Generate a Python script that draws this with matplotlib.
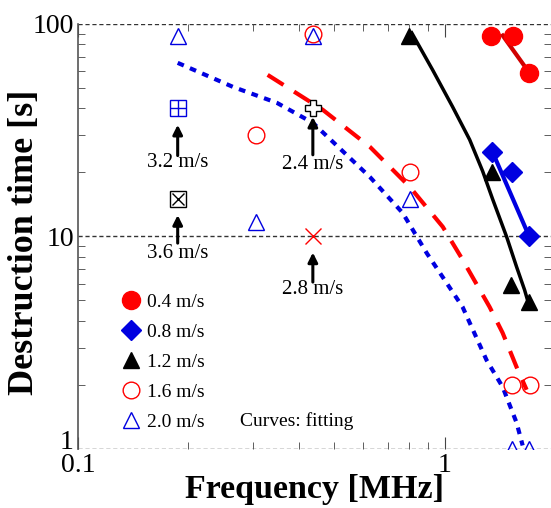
import numpy as np
import matplotlib
matplotlib.use('Agg')
import matplotlib.pyplot as plt
from matplotlib.lines import Line2D
from matplotlib.transforms import ScaledTranslation

plt.rcParams['font.family'] = ['Liberation Serif', 'DejaVu Serif']

# 测点数据 (频率 MHz, 破坏时间 s)
f_04 = [1.34, 1.54, 1.70]
t_04 = [88, 88, 59]
f_08 = [1.35, 1.53, 1.70]
t_08 = [25, 20, 10]
f_12 = [0.80, 1.35, 1.52, 1.70]
t_12 = [88, 20, 5.9, 4.9]
f_16 = [0.305, 0.437, 0.805, 1.53, 1.71]
t_16 = [30, 90, 20, 2.0, 2.0]
f_20 = [0.187, 0.305, 0.437, 0.803, 1.53, 1.70]
t_20 = [88, 11.7, 88, 15, 1.0, 1.0]

# 单点 (3.2, 3.6, 2.4, 2.8 m/s)
f_32, t_32 = 0.187, 40
f_36, t_36 = 0.187, 15
f_24, t_24 = 0.437, 40
f_28, t_28 = 0.437, 10

# 拟合曲线
fit04_f = [1.44, 1.70]
fit04_t = [88, 59]
fit08_f = [1.35, 1.70]
fit08_t = [25, 10]
fit12_f = [0.813, 0.927, 1.051, 1.170, 1.269, 1.351, 1.476, 1.571, 1.652, 1.704]
fit12_t = [90.7, 60.7, 40.7, 28.5, 20.3, 15.0, 9.95, 7.19, 5.60, 4.66]
fit16_f = [0.329, 0.465, 0.625, 0.803, 0.988, 1.112, 1.326, 1.439, 1.571, 1.673]
fit16_t = [57.5, 39.4, 26.4, 17.1, 11.1, 7.92, 4.66, 3.52, 2.43, 1.90]
fit20_f = [0.187, 0.2645, 0.3485, 0.437, 0.625, 0.768, 0.893, 1.119, 1.301, 1.439, 1.571, 1.632]
fit20_t = [65.5, 50.5, 42.5, 34.2, 19.05, 12.9, 8.36, 4.66, 2.62, 1.96, 1.33, 1.04]

legend_labels = ['0.4 m/s', '0.8 m/s', '1.2 m/s', '1.6 m/s', '2.0 m/s']

fig = plt.figure(figsize=(5.51, 5.08), dpi=100)
ax = fig.add_axes([0.1416, 0.116, 0.8584, 0.8372])
ax.set_xscale('log')
ax.set_yscale('log')
ax.set_xlim(0.1, 1.95)
ax.set_ylim(1, 100)

# 拟合曲线
ax.plot(fit04_f, fit04_t, '-', color='#d00000', lw=3, zorder=2)
ax.plot(fit08_f, fit08_t, '-', color='#0000e0', lw=3, zorder=2)
ax.plot(fit12_f, fit12_t, '-', color='k', lw=2.5, zorder=2)
ax.plot(fit16_f, fit16_t, '--', color='#ff0000', lw=3, dashes=(4.5, 3), zorder=2)
ax.plot(fit20_f, fit20_t, '--', color='#0000e0', lw=3, dashes=(1.6, 1.6), zorder=2)

# 测点
ax.plot(f_04, t_04, 'o', color='#ff0000', ms=13, mec='#ff0000', ls='none', zorder=3)
ax.plot(f_08, t_08, 'D', color='#0000e0', ms=10, ls='none', zorder=3)
ax.plot(f_12, t_12, '^', color='k', ms=11, ls='none', zorder=3)
ax.plot(f_16, t_16, 'o', mfc='none', mec='#ff0000', ms=12, mew=1, ls='none', zorder=3)
ax.plot(f_20, t_20, '^', mfc='none', mec='#0000e0', ms=12, mew=1, ls='none', zorder=3)

ax.plot(f_32, t_32, 's', mfc='none', mec='#0000e0', ms=11, mew=1, zorder=3)
ax.plot(f_32, t_32, '+', color='#0000e0', ms=11, mew=1, zorder=3)
ax.plot(f_36, t_36, 's', mfc='none', mec='k', ms=11, mew=1, zorder=3)
ax.plot(f_36, t_36, 'x', color='k', ms=8, mew=1, zorder=3)
ax.plot(f_24, t_24, 'P', mfc='white', mec='k', ms=11, mew=1, zorder=4)
ax.plot(f_28, t_28, 'x', color='#ff0000', ms=12, mew=1, zorder=3)

# 箭头和标注
arr = dict(arrowstyle='-|>', color='k', lw=2.2, mutation_scale=14, shrinkA=0, shrinkB=0)
ax.annotate('', xy=(f_32, 33.5), xytext=(f_32, 24.0), arrowprops=arr)
ax.text(f_32, 22.2, '3.2 m/s', ha='center', va='center', fontsize=15)
ax.annotate('', xy=(f_36, 12.6), xytext=(f_36, 9.3), arrowprops=arr)
ax.text(f_36, 8.3, '3.6 m/s', ha='center', va='center', fontsize=15)
ax.annotate('', xy=(f_24, 36.5), xytext=(f_24, 24.2), arrowprops=arr)
ax.text(f_24, 21.7, '2.4 m/s', ha='center', va='center', fontsize=15)
ax.annotate('', xy=(f_28, 8.4), xytext=(f_28, 6.1), arrowprops=arr)
ax.text(f_28, 5.6, '2.8 m/s', ha='center', va='center', fontsize=15)
ax.text(0.276, 1.36, 'Curves: fitting', ha='left', va='center', fontsize=14)

# 图例
handles = [
    Line2D([], [], marker='o', color='#ff0000', ms=13, ls='none'),
    Line2D([], [], marker='D', color='#0000e0', ms=10, ls='none'),
    Line2D([], [], marker='^', color='k', ms=11, ls='none'),
    Line2D([], [], marker='o', mfc='none', mec='#ff0000', ms=12, ls='none'),
    Line2D([], [], marker='^', mfc='none', mec='#0000e0', ms=12, ls='none'),
]
ax.legend(handles, legend_labels, loc='upper left', bbox_to_anchor=(0.08, 0.384),
          frameon=False, fontsize=14, handlelength=0.8, handletextpad=0.4,
          labelspacing=0.63, borderaxespad=0)

# 网格与坐标轴
for yv in [1, 10, 100]:
    ax.axhline(yv, color='#333333', ls=(0, (3, 2)), lw=1, zorder=1)
ax.spines['top'].set_visible(False)
ax.spines['bottom'].set_visible(False)
ax.spines['right'].set_visible(False)
ax.spines['left'].set_color('#555555')
ax.spines['left'].set_linewidth(1.2)

ax.set_xticks([0.1, 1])
ax.set_xticklabels(['0.1', '1'])
ax.set_yticks([1, 10, 100])
ax.set_yticklabels(['1', '10', '100'])
ax.tick_params(axis='both', which='both', direction='in', top=True, right=True,
               labelsize=20, color='#444444')
ax.tick_params(axis='x', which='major', length=9, pad=3)
ax.tick_params(axis='x', which='minor', length=5)
ax.tick_params(axis='y', which='major', length=0, pad=3)
ax.tick_params(axis='y', which='minor', length=5)
ax.xaxis.set_minor_formatter(matplotlib.ticker.NullFormatter())
ax.yaxis.set_minor_formatter(matplotlib.ticker.NullFormatter())

# 纵轴 "1" 稍微上移
lab1 = ax.get_yticklabels()[0]
lab1.set_transform(lab1.get_transform() + ScaledTranslation(0, 7 / 72, fig.dpi_scale_trans))

ax.set_xlabel('Frequency [MHz]', fontsize=24.5, fontweight='bold')
ax.xaxis.set_label_coords(0.5, -0.058)
ax.set_ylabel('Destruction time [s]', fontsize=26, fontweight='bold')
ax.yaxis.set_label_coords(-0.078, 0.487)

fig.savefig('out.png', dpi=100)
